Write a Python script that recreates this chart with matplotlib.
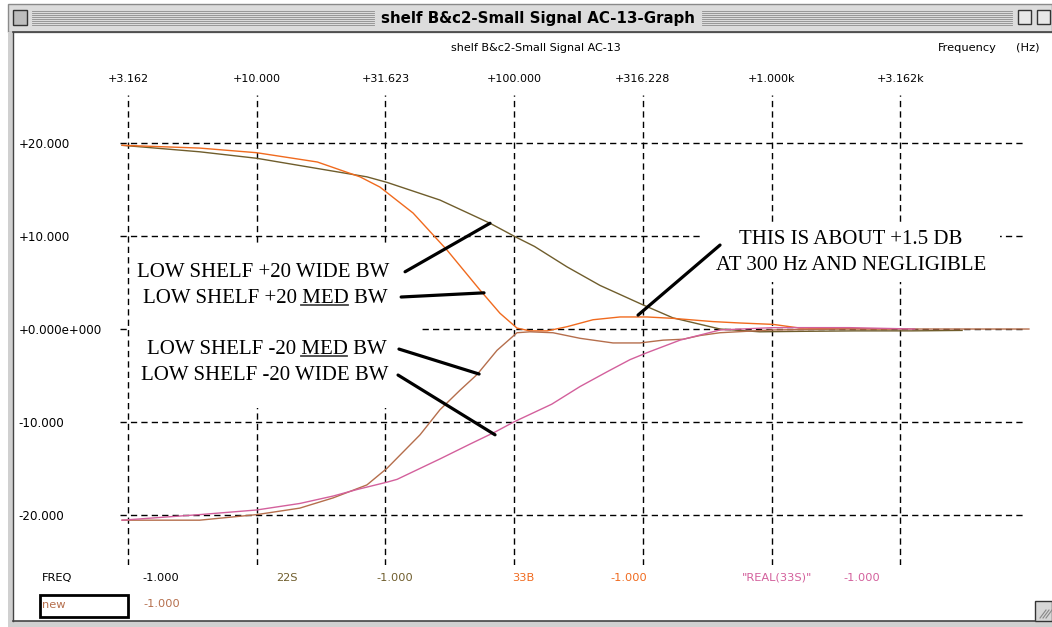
import matplotlib
matplotlib.use("Agg")
import matplotlib.pyplot as plt
from matplotlib.patches import Rectangle
from matplotlib.ticker import FixedLocator, NullLocator

# low shelf responses (Hz, dB)
freq_pos_wide = [3.0, 6.0, 10.0, 17.2, 26.8, 32.1, 51.5, 67.4, 80.6, 101.7, 120, 160.5,
                 215.6, 316.8, 414.3, 631, 900, 1300, 2100, 3500, 5500]
db_pos_wide = [19.8, 19.1, 18.4, 17.3, 16.4, 15.8, 13.9, 12.4, 11.4, 9.9, 8.9, 6.7,
               4.7, 2.6, 1.2, 0.0, -0.3, -0.25, -0.2, -0.2, -0.15]

freq_pos_med = [3.0, 6.0, 10.0, 17.2, 25.2, 30.1, 40.5, 54.9, 73.7, 88.1, 102.6, 115.3,
                134.3, 160.5, 202.5, 257.9, 328.3, 414.3, 592.5, 754.6, 1014, 1291, 2000, 2900]
db_pos_med = [19.8, 19.5, 19.0, 18.0, 16.4, 15.3, 12.5, 8.5, 4.2, 1.7, 0.1, -0.2,
              -0.2, 0.25, 1.0, 1.3, 1.3, 1.15, 0.8, 0.65, 0.5, 0.1, 0.05, 0.0]

freq_neg_med = [3.0, 6.0, 10.0, 14.7, 19.8, 26.8, 32.1, 36.0, 43.1, 51.5, 61.6, 71.8,
                85.8, 102.6, 115.3, 141.6, 180.3, 242.2, 308.4, 378.8, 453, 527.5, 631,
                1000, 2000, 5000, 10000]
db_neg_med = [-20.6, -20.6, -20.0, -19.3, -18.2, -16.8, -15.0, -13.6, -11.4, -8.7, -6.6, -4.9,
              -2.3, -0.4, -0.3, -0.4, -1.0, -1.5, -1.5, -1.2, -1.1, -0.7, -0.4,
              -0.1, 0.0, 0.0, 0.0]

freq_neg_wide = [3.0, 6.0, 10.0, 14.7, 19.8, 24.5, 32.1, 35.1, 51.5, 67.4, 84.3, 100,
                 140, 180.3, 230, 282, 328.3, 441, 631, 1014, 2000, 3600]
db_neg_wide = [-20.6, -20.0, -19.5, -18.8, -18.0, -17.3, -16.5, -16.2, -14.0, -12.4, -11.1, -10.0,
               -8.1, -6.2, -4.6, -3.3, -2.55, -1.2, -0.1, 0.15, 0.15, 0.0]

x_ticks = [3.162, 10, 31.623, 100, 316.228, 1000, 3162.3]
x_labels = ['+3.162', '+10.000', '+31.623', '+100.000', '+316.228', '+1.000k', '+3.162k']
y_ticks = [20, 10, 0, -10, -20]
y_labels = ['+20.000', '+10.000', '+0.000e+000', '-10.000', '-20.000']

c_olive = '#6f5d2c'
c_orange = '#f06a1e'
c_brown = '#b56e4c'
c_pink = '#d3609c'

W, H = 1052, 627
fig = plt.figure(figsize=(W / 100, H / 100), dpi=100)

# window chrome, drawn in pixel units
bg = fig.add_axes([0, 0, 1, 1])
bg.set_xlim(0, W)
bg.set_ylim(H, 0)
bg.axis('off')
bg.add_patch(Rectangle((0, 0), W, H, facecolor='white', edgecolor='none'))
bg.add_patch(Rectangle((8, 4), W - 8, 28, facecolor='#dcdcdc', edgecolor='#8a8a8a', lw=1))
bg.add_patch(Rectangle((8, 32), 6, H - 32, facecolor='#d0d0d0', edgecolor='none'))
bg.plot([13, 13], [32, 621], color='#444444', lw=1)
bg.plot([13, W], [32, 32], color='#444444', lw=1.2)
bg.add_patch(Rectangle((8, 621), W - 8, 6, facecolor='#d0d0d0', edgecolor='none'))
bg.plot([13, 1035], [621, 621], color='#444444', lw=1.2)
for yy in range(11, 26, 2):
    bg.plot([32, 374], [yy, yy], color='#8c8c8c', lw=0.6)
    bg.plot([702, 1012], [yy, yy], color='#8c8c8c', lw=0.6)
bg.add_patch(Rectangle((13, 10), 14, 15, facecolor='#bdbdbd', edgecolor='#333333', lw=1))
bg.add_patch(Rectangle((1018, 10), 13, 14, facecolor='#e8e8e8', edgecolor='#333333', lw=1))
bg.add_patch(Rectangle((1037, 10), 13, 14, facecolor='#e8e8e8', edgecolor='#333333', lw=1))
bg.add_patch(Rectangle((1035, 601), 17, 20, facecolor='#d6d6d6', edgecolor='#333333', lw=1))
for k in range(3):
    bg.plot([1040 + 3 * k, 1046 + 3 * k], [618, 610], color='#888888', lw=0.8)
bg.text(538, 18, 'shelf B&c2-Small Signal AC-13-Graph', ha='center', va='center',
        fontsize=10.8, fontweight='bold', family='DejaVu Sans',
        bbox=dict(facecolor='#dcdcdc', edgecolor='none', pad=2))
bg.text(536, 48, 'shelf B&c2-Small Signal AC-13', ha='center', va='center', fontsize=8)
bg.text(938, 48, 'Frequency', ha='left', va='center', fontsize=8.2)
bg.text(1016, 48, '(Hz)', ha='left', va='center', fontsize=8.2)

# trace list along the bottom
row1 = [('FREQ', 42, 'black'), ('-1.000', 142, 'black'), ('22S', 276, c_olive),
        ('-1.000', 376, c_olive), ('33B', 512, c_orange), ('-1.000', 610, c_orange),
        ('"REAL(33S)"', 742, c_pink), ('-1.000', 843, c_pink)]
for txt, xx, col in row1:
    bg.text(xx, 578, txt, ha='left', va='center', fontsize=8.2, color=col)
bg.add_patch(Rectangle((40, 595), 88, 22, facecolor='none', edgecolor='black', lw=2))
bg.text(42, 605, 'new', ha='left', va='center', fontsize=8.2, color=c_brown)
bg.text(143, 604, '-1.000', ha='left', va='center', fontsize=8.2, color=c_brown)

# plot area
ax = fig.add_axes([116 / W, 1 - 565 / H, (1040 - 116) / W, 470 / H])
ax.patch.set_alpha(0)
ax.set_xscale('log')
ax.set_xlim(2.84, 11043)
ax.set_ylim(-25.43, 25.22)
for s in ax.spines.values():
    s.set_visible(False)

ax.xaxis.set_major_locator(FixedLocator(x_ticks))
ax.xaxis.set_minor_locator(NullLocator())
ax.set_xticklabels(x_labels)
ax.xaxis.set_ticks_position('top')
ax.tick_params(axis='x', length=0, pad=8, labelsize=8)
ax.set_yticks(y_ticks)
ax.set_yticklabels(y_labels)
ax.tick_params(axis='y', length=0, pad=70, labelsize=8.6)
for lab in ax.get_yticklabels():
    lab.set_horizontalalignment('left')

dash = (0, (4.5, 3))
for f in x_ticks:
    ax.axvline(f, color='black', lw=1, ls=dash, zorder=1)
ax.hlines(y_ticks, 2.95, 9660, color='black', lw=1, ls=dash, zorder=1)

# white backing behind the notes
ax.add_patch(Rectangle((3.22, -8.5), 43.1 - 3.22, 17.55, facecolor='white', edgecolor='none', zorder=2))
ax.add_patch(Rectangle((527, 5.06), 7723 - 527, 6.14, facecolor='white', edgecolor='none', zorder=2))

ax.plot(freq_pos_wide, db_pos_wide, color=c_olive, lw=1, zorder=3)
ax.plot(freq_pos_med, db_pos_med, color=c_orange, lw=1, zorder=3)
ax.plot(freq_neg_med, db_neg_med, color=c_brown, lw=1, zorder=3)
ax.plot(freq_neg_wide, db_neg_wide, color=c_pink, lw=1, zorder=3)

note = dict(ha='center', va='center', fontsize=15, family='Liberation Serif', zorder=5)
ax.text(10.6, 6.14, 'LOW SHELF +20 WIDE BW', **note)
med_pos = ax.text(10.8, 3.34, 'LOW SHELF +20 MED BW', **note)
med_neg = ax.text(11.0, -2.26, 'LOW SHELF -20 MED BW', **note)
ax.text(10.7, -5.06, 'LOW SHELF -20 WIDE BW', **note)
ax.text(2037, 9.6, 'THIS IS ABOUT +1.5 DB', **note)
ax.text(2037, 6.8, 'AT 300 Hz AND NEGLIGIBLE', **note)

arrow = dict(arrowstyle='-', lw=2.3, color='black', shrinkA=0, shrinkB=0)
ax.annotate('', xy=(80.6, 11.4), xytext=(37.7, 6.17), arrowprops=arrow, zorder=4)
ax.annotate('', xy=(76.4, 3.9), xytext=(36.4, 3.45), arrowprops=arrow, zorder=4)
ax.annotate('', xy=(73.1, -4.85), xytext=(35.7, -2.16), arrowprops=arrow, zorder=4)
ax.annotate('', xy=(84.3, -11.4), xytext=(35.4, -4.96), arrowprops=arrow, zorder=4)
ax.annotate('', xy=(303, 1.5), xytext=(631, 9.05), arrowprops=arrow, zorder=4)


# mathtext has no \underline, so measure the words and draw it by hand
def text_width(s, r):
    t = bg.text(0, 0, s, fontsize=15, family='Liberation Serif')
    w = t.get_window_extent(r).width
    t.remove()
    return w


r = fig.canvas.get_renderer()
inv = ax.transData.inverted()
for t, prefix in [(med_pos, 'LOW SHELF +20'), (med_neg, 'LOW SHELF -20')]:
    box = t.get_window_extent(r)
    gap = text_width('A B', r) - text_width('AB', r)
    x0 = box.x0 + text_width(prefix, r) + gap
    x1 = x0 + text_width('MED', r)
    (fx0, yy), (fx1, _) = inv.transform([(x0, box.y0 + 3), (x1, box.y0 + 3)])
    ax.plot([fx0, fx1], [yy, yy], color='#444444', lw=1.3, zorder=6)

fig.savefig('out.png', dpi=100)
